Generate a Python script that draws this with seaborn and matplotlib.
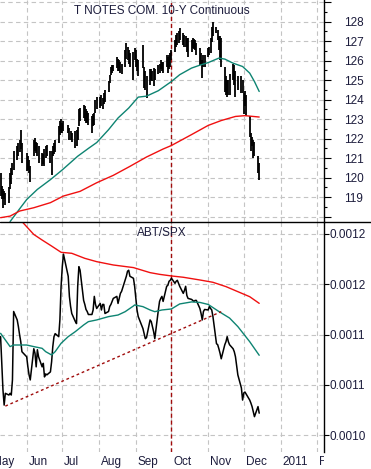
import numpy as np
import pandas as pd
from matplotlib import use
use('agg')
import matplotlib.pyplot as plt
import matplotlib.dates as mdates
import matplotlib.transforms as mtransforms
from matplotlib.lines import Line2D
import seaborn as sns

# trading days on the chart (exchange holidays dropped)
holidays = ['2010-05-31', '2010-07-05', '2010-09-06', '2010-11-25']
days = pd.bdate_range('2010-05-10', '2010-12-14')
days = days[~days.isin(pd.to_datetime(holidays))]

# T notes daily high / low, May .. Dec
tnote_hi = [120.25, 119.55, 119.4, 119.3, 119.2, 119.5, 120.25, 120.5, 120.75, 121.35, 121.6, 121.8, 121.95, 122.45, 121.8,
            121.25, 121.1, 120.9, 120.6, 121.95, 122.05, 121.85, 121.8, 121.6, 121.25, 121.2, 121.45, 121.6, 121.7, 121.35, 121.35, 121.6, 121.8, 121.95, 122.65, 122.9, 123.0,
            122.8, 122.9, 122.7, 122.55, 122.4, 122.3, 122.4, 122.45, 122.6, 123.5, 123.55, 123.75, 123.65, 123.5, 123.4, 123.3, 123.15, 123.25, 123.3, 124.0, 124.15,
            124.15, 124.25, 124.1, 124.35, 124.5, 124.95, 125.25, 125.7, 125.8, 125.8, 126.2, 126.1, 126.05, 125.95, 125.85, 126.55, 126.9, 126.7, 126.55, 126.4, 126.45, 126.65,
            126.55, 126.1, 126.05, 126.8, 125.7, 125.45, 125.2, 125.55, 125.55, 125.45, 125.6, 125.55, 125.8, 125.85, 126.05, 125.95, 125.95, 126.3, 126.2, 126.3, 126.4,
            126.55, 127.05, 127.3, 127.4, 127.5, 127.65, 127.4, 127.3, 127.25, 127.15, 127.15, 127.05, 127.15, 127.1, 127.05, 126.9, 126.65, 126.4, 126.05, 126.3, 126.3,
            126.65, 126.7, 127.15, 127.75, 128.0, 127.75, 127.55, 127.25, 127.25, 127.15, 125.7, 125.2, 125.0, 125.0, 125.3, 125.85, 125.8, 125.45, 125.2, 125.2, 125.0,
            124.35, 124.45, 124.25, 123.15, 122.3, 122.1, 121.95, 121.85, 121.1, 120.75]
tnote_lo = [119.05, 118.9, 118.45, 118.9, 118.6, 118.7, 119.4, 119.7, 120.15, 120.4, 120.9, 121.1, 121.3, 121.45, 120.75,
            120.35, 120.4, 120.25, 119.8, 121.1, 121.35, 121.25, 121.1, 120.75, 120.6, 120.7, 120.6, 121.0, 121.1, 120.75, 120.15, 121.1, 121.2, 121.3, 121.8, 122.2, 122.3,
            122.3, 122.4, 122.3, 121.95, 121.95, 121.85, 121.5, 121.6, 121.95, 122.65, 122.9, 123.05, 122.9, 122.8, 122.8, 122.7, 122.3, 122.65, 122.7, 123.3, 123.5,
            123.55, 123.65, 123.5, 123.8, 123.9, 124.4, 124.85, 125.25, 125.35, 125.45, 125.6, 125.45, 125.45, 125.35, 125.3, 125.7, 126.1, 126.05, 125.85, 125.7, 125.0, 126.05,
            125.7, 125.45, 125.2, 125.6, 124.6, 124.5, 124.1, 124.75, 125.0, 124.95, 124.7, 125.0, 125.3, 125.35, 125.55, 125.45, 125.35, 125.7, 125.35, 125.55, 125.7,
            126.05, 126.45, 126.7, 126.8, 126.9, 127.05, 126.8, 126.7, 126.7, 126.45, 126.2, 126.45, 126.65, 126.6, 126.55, 126.3, 125.8, 125.8, 125.1, 125.7, 125.7,
            126.2, 126.3, 126.4, 126.95, 127.25, 127.4, 127.05, 126.55, 126.05, 125.7, 124.4, 124.25, 124.15, 124.25, 124.25, 125.0, 124.75, 124.15, 124.5, 124.35, 124.35,
            123.25, 123.65, 123.15, 122.1, 121.35, 121.6, 121.0, 121.1, 120.25, 119.9]

# moving averages of the T notes (teal = short, red = long)
tnote_ma_short_dates = ['2010-05-18', '2010-05-26', '2010-06-01', '2010-06-10', '2010-06-21', '2010-07-01', '2010-07-14',
                        '2010-07-23', '2010-07-30', '2010-08-09', '2010-08-17', '2010-08-26', '2010-09-03', '2010-09-10',
                        '2010-09-20', '2010-10-01', '2010-10-08', '2010-10-18', '2010-10-26', '2010-11-01', '2010-11-10',
                        '2010-11-15', '2010-11-22', '2010-11-30', '2010-12-06', '2010-12-10', '2010-12-14']
tnote_ma_short = [117.75, 118.4, 118.88, 119.4, 119.9, 120.4, 121.1,
                  121.5, 121.8, 122.46, 123.06, 123.57, 124.13, 124.18,
                  124.46, 124.93, 125.28, 125.62, 125.79, 125.9, 126.13,
                  126.08, 125.87, 125.7, 125.36, 124.93, 124.42]
tnote_ma_long_dates = ['2010-05-10', '2010-05-18', '2010-05-26', '2010-06-07', '2010-06-21', '2010-07-02', '2010-07-16',
                       '2010-07-30', '2010-08-13', '2010-08-27', '2010-09-10', '2010-09-24', '2010-10-01', '2010-10-18',
                       '2010-11-01', '2010-11-12', '2010-11-24', '2010-12-02', '2010-12-14']
tnote_ma_long = [117.95, 118.03, 118.29, 118.46, 118.72, 119.06, 119.3,
                 119.74, 120.12, 120.58, 121.06, 121.47, 121.65, 122.21,
                 122.68, 122.93, 123.14, 123.18, 123.11]

# ABT/SPX ratio, daily, in units of 1e-5
abt_spx = [114.8, 112.15, 109.5, 108.0, 109.17, 109.0, 109.17, 109.0, 110.5, 117.3, 116.46, 115.8, 115.0, 114.3, 113.3,
           112.8, 111.8, 111.0, 110.5, 113.6, 113.15, 111.8, 113.5, 112.8, 111.8, 112.15, 110.8, 111.1, 111.0, 111.3, 112.3, 113.8, 114.8, 115.1, 114.8, 116.5, 119.8,
           121.75, 123.0, 120.8, 118.8, 117.8, 117.1, 116.3, 116.1, 119.8, 121.75, 121.4, 118.4, 118.0, 117.5, 117.3, 117.0, 117.0, 117.45, 118.8, 118.0, 117.6,
           118.1, 117.45, 118.0, 118.0, 117.1, 117.3, 117.8, 118.0, 118.3, 118.6, 118.8, 118.1, 118.6, 119.1, 119.3, 120.4, 120.8, 121.3, 121.4, 120.8, 120.6, 119.8,
           118.6, 117.45, 116.8, 115.6, 115.1, 114.6, 114.7, 116.46, 116.3, 115.8, 115.3, 114.6, 117.45, 118.3, 118.6, 118.8, 118.3, 119.8, 119.9, 120.3, 120.4,
           120.6, 120.1, 120.3, 120.4, 120.1, 119.8, 119.1, 119.4, 119.8, 118.9, 118.6, 118.5, 118.4, 118.3, 118.4, 118.4, 117.6, 117.1, 116.46, 117.3, 117.5,
           117.45, 117.8, 117.6, 117.45, 116.8, 114.1, 114.0, 113.6, 113.15, 112.6, 114.0, 114.3, 114.8, 114.3, 114.0, 113.6, 113.3, 112.8, 111.0, 109.7, 108.5,
           109.2, 109.3, 109.1, 108.5, 108.2, 107.85, 107.35, 106.85, 107.85, 107.2]
ratio_ma_short_dates = ['2010-05-10', '2010-05-14', '2010-05-18', '2010-05-21', '2010-05-26', '2010-06-01', '2010-06-07',
                        '2010-06-14', '2010-06-17', '2010-06-22', '2010-06-25', '2010-06-30', '2010-07-06', '2010-07-12',
                        '2010-07-19', '2010-07-23', '2010-07-30', '2010-08-09', '2010-08-17', '2010-08-23', '2010-08-30',
                        '2010-08-31', '2010-09-07', '2010-09-13', '2010-09-17', '2010-09-23', '2010-10-01', '2010-10-08',
                        '2010-10-18', '2010-10-25', '2010-11-01', '2010-11-10', '2010-11-19', '2010-11-26', '2010-12-06',
                        '2010-12-14']
ratio_ma_short = [115.13, 114.47, 113.81, 113.97, 113.97, 113.97, 113.81,
                  113.64, 113.31, 112.98, 113.31, 114.14, 114.8, 115.3,
                  115.96, 116.29, 116.46, 116.79, 116.95, 117.28, 117.85,
                  117.95, 117.78, 117.45, 117.28, 117.45, 117.55, 118.05,
                  118.25, 118.2, 118.0, 117.3, 116.65, 115.8, 114.3,
                  112.95]
ratio_ma_long_dates = ['2010-05-24', '2010-06-07', '2010-06-14', '2010-06-22', '2010-06-30', '2010-07-09', '2010-07-20',
                       '2010-07-30', '2010-08-13', '2010-08-30', '2010-09-13', '2010-09-21', '2010-10-01', '2010-10-11',
                       '2010-10-25', '2010-11-05', '2010-11-16', '2010-11-26', '2010-12-06', '2010-12-14']
ratio_ma_long = [126.75, 124.95, 124.4, 123.8, 123.18, 123.08, 122.58,
                 122.25, 121.92, 121.66, 121.16, 120.99, 120.83, 120.7,
                 120.43, 120.2, 119.77, 119.27, 118.77, 118.11]
trend_dates = ['2010-05-14', '2010-11-12']
trend_vals = [107.9, 117.28]
event_date = '2010-10-01'

tnote_ticks = [118, 119, 120, 121, 122, 123, 124, 125, 126, 127, 128, 129]
tnote_ticklabels = ['', '119', '120', '121', '122', '123', '124', '125', '126', '127', '128', '']
ratio_ticks = [0.00125, 0.0012, 0.00115, 0.0011, 0.00105]
ratio_ticklabels = ['0.0012', '0.0012', '0.0011', '0.0011', '0.0010']
month_starts = ['2010-05-01', '2010-06-01', '2010-07-01', '2010-08-01', '2010-09-01', '2010-10-01',
                '2010-11-01', '2010-12-01', '2011-01-01', '2011-02-01']
month_labels = ['May', 'Jun', 'Jul', 'Aug', 'Sep', 'Oct', 'Nov', 'Dec', '2011', 'Feb']

sns.set_style('white')
plt.rcParams['font.family'] = ['Liberation Sans', 'DejaVu Sans']
txtcol = '#1c1c3c'
teal = '#0e8472'
red = '#f01010'
darkred = '#a00c0c'
gridkw = dict(color='#c4c4c4', linestyle=(0, (4, 3)), linewidth=0.8)

W, H = 371, 469
x_right = 323.5 / W
split = 1 - 221.7 / H
bottom = 1 - 452 / H

fig = plt.figure(figsize=(W / 100, H / 100), dpi=100)
ax1 = fig.add_axes([0, split, x_right, 1 - split])
ax2 = fig.add_axes([0, bottom, x_right, split - bottom])

xlim = (pd.Timestamp('2010-05-09 12:00'), pd.Timestamp('2011-02-06 05:00'))
in_range = [pd.Timestamp(d) for d in month_starts if pd.Timestamp(d) >= xlim[0]]

# --- top panel: T notes bars
ax1.vlines(days, tnote_lo, tnote_hi, color='black', linewidth=1.3, zorder=3)
sns.lineplot(x=pd.to_datetime(tnote_ma_short_dates), y=tnote_ma_short, ax=ax1, color=teal, linewidth=1.0, zorder=4)
sns.lineplot(x=pd.to_datetime(tnote_ma_long_dates), y=tnote_ma_long, ax=ax1, color=red, linewidth=1.0, zorder=4)
ax1.axvline(pd.Timestamp(event_date), color=darkred, linestyle=(0, (3, 2)), linewidth=1.0, zorder=2)
ax1.set_ylim(117.744, 129.109)
ax1.text(0.5, 0.952, 'T NOTES COM. 10-Y Continuous', transform=ax1.transAxes,
         ha='center', va='center', fontsize=8.5, color=txtcol)

# --- bottom panel: ABT/SPX
ratio = np.array(abt_spx) * 1e-5
sns.lineplot(x=days, y=ratio, ax=ax2, color='black', linewidth=1.1, zorder=3)
sns.lineplot(x=pd.to_datetime(ratio_ma_short_dates), y=np.array(ratio_ma_short) * 1e-5, ax=ax2,
             color=teal, linewidth=1.0, zorder=4)
sns.lineplot(x=pd.to_datetime(ratio_ma_long_dates), y=np.array(ratio_ma_long) * 1e-5, ax=ax2,
             color=red, linewidth=1.0, zorder=4)
sns.lineplot(x=pd.to_datetime(trend_dates), y=np.array(trend_vals) * 1e-5, ax=ax2,
             color=darkred, linewidth=1.0, linestyle=(0, (2, 2)), zorder=4)
ax2.axvline(pd.Timestamp(event_date), color=darkred, linestyle=(0, (3, 2)), linewidth=1.0, zorder=2)
ax2.set_ylim(103.34e-5, 126.22e-5)
ax2.text(0.5, 0.952, 'ABT/SPX', transform=ax2.transAxes,
         ha='center', va='center', fontsize=8.5, color=txtcol)

for ax in (ax1, ax2):
    ax.set_xlim(*xlim)
    ax.set_xlabel('')
    ax.set_ylabel('')
    ax.set_axisbelow(True)
    ax.yaxis.tick_right()
    ax.set_xticks(in_range)
    ax.set_xticklabels([''] * len(in_range))
    ax.grid(True, which='major', **gridkw)
    for s in ('left', 'top', 'bottom'):
        ax.spines[s].set_visible(False)
    ax.spines['right'].set_color('black')
    ax.spines['right'].set_linewidth(1.0)
    ax.patch.set_alpha(0)

ax1.set_yticks(tnote_ticks, labels=tnote_ticklabels)
ax1.set_yticks([t + 0.5 for t in tnote_ticks[:-1]], minor=True)
ax1.tick_params(axis='y', which='major', length=5, width=0.8, pad=10, labelsize=8.5,
                labelcolor=txtcol, color='black')
ax1.tick_params(axis='y', which='minor', length=2.2, width=0.8, color='black')
ax1.tick_params(axis='x', which='both', length=0, labelbottom=False)

ax2.set_yticks(ratio_ticks, labels=ratio_ticklabels)
ax2.tick_params(axis='y', which='major', length=3.6, width=0.8, pad=0.8, labelsize=8.5,
                labelcolor=txtcol, color='black')
ax2.xaxis.set_minor_locator(mdates.WeekdayLocator(byweekday=mdates.WE))
ax2.tick_params(axis='x', which='major', length=11, width=0.8, color='black', direction='out')
ax2.tick_params(axis='x', which='minor', length=2.5, width=0.8, color='black', direction='out')

# month labels sit right of their tick, clipped at the price axis
clip = mtransforms.TransformedBbox(mtransforms.Bbox([[0, 0], [x_right, 1]]), fig.transFigure)
lab_trans = mtransforms.offset_copy(mtransforms.blended_transform_factory(ax2.transData, ax2.transAxes),
                                    fig=fig, x=2, y=0, units='dots')
for d, lab in zip(month_starts, month_labels):
    t = ax2.text(mdates.date2num(pd.Timestamp(d)), -10 / 230.3, lab, transform=lab_trans,
                 ha='left', va='center', fontsize=8.5, color=txtcol)
    t.set_clip_box(clip)
    t.set_clip_on(True)

# separator across the whole figure
fig.add_artist(Line2D([0, 1], [split, split], transform=fig.transFigure, color='black', linewidth=1.0))

plt.savefig('out.png', dpi=100)
